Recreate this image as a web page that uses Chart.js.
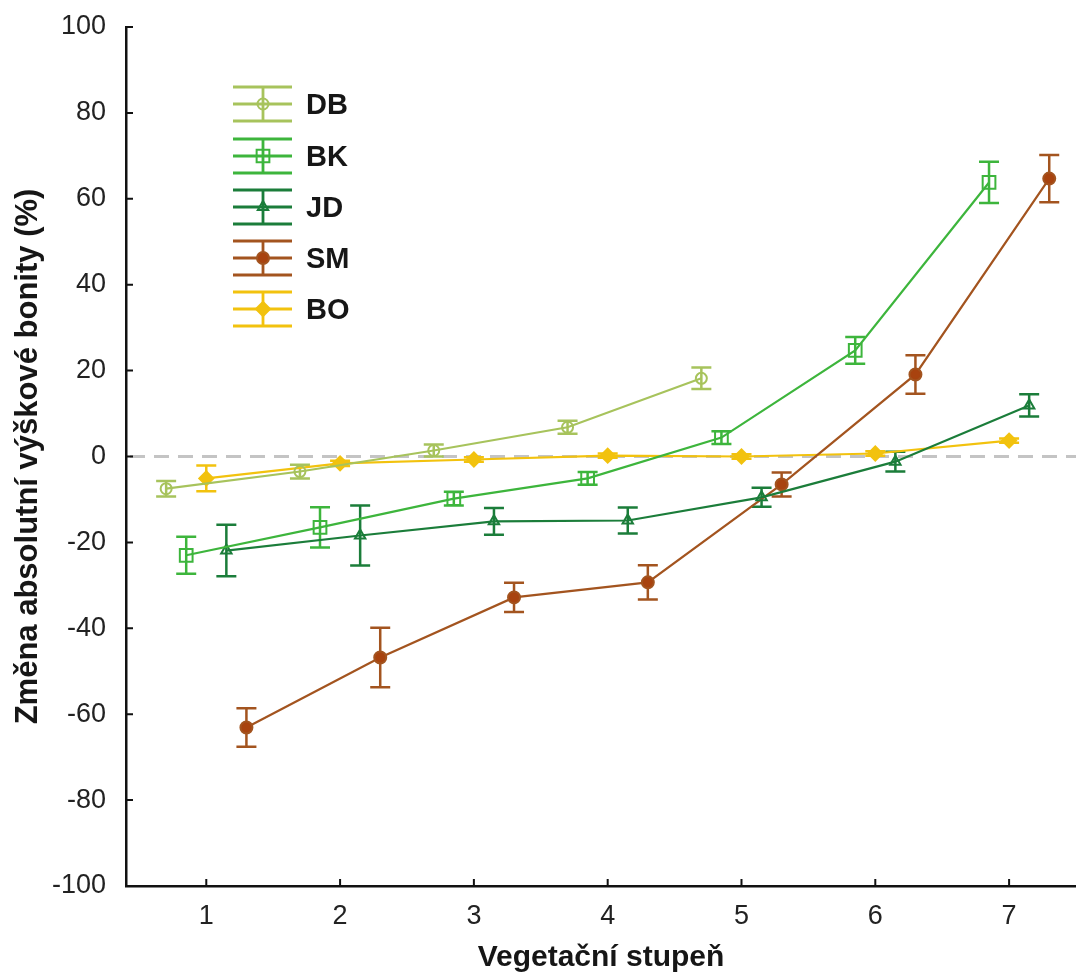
<!DOCTYPE html>
<html>
<head>
<meta charset="utf-8">
<script src="https://cdn.jsdelivr.net/npm/chart.js@4.4.1/dist/chart.umd.min.js"></script>
<style>
  html, body { margin: 0; padding: 0; background: #fff; }
  #wrap { width: 1076px; height: 980px; }
</style>
</head>
<body>
<div id="wrap"><canvas id="chart" width="1076" height="980"></canvas></div>
<script>
// hodnoty
const xTicks = [1, 2, 3, 4, 5, 6, 7];
const seriesNames = ['DB', 'BK', 'JD', 'SM', 'BO'];

const dbX = [0.7, 1.7, 2.7, 3.7, 4.7];
const dbY = [-7.5, -3.5, 1.4, 6.8, 18.2];
const dbErr = [1.8, 1.6, 1.4, 1.5, 2.5];

const bkX = [0.85, 1.85, 2.85, 3.85, 4.85, 5.85, 6.85];
const bkY = [-23, -16.5, -9.8, -5.1, 4.4, 24.7, 63.8];
const bkErr = [4.3, 4.7, 1.6, 1.5, 1.5, 3.1, 4.8];

const jdX = [1.15, 2.15, 3.15, 4.15, 5.15, 6.15, 7.15];
const jdY = [-21.9, -18.4, -15.1, -14.9, -9.5, -1.2, 11.9];
const jdErr = [6, 7, 3.1, 3, 2.2, 2.3, 2.6];

const smX = [1.3, 2.3, 3.3, 4.3, 5.3, 6.3, 7.3];
const smY = [-63.1, -46.8, -32.8, -29.3, -6.5, 19.1, 64.7];
const smErr = [4.5, 6.9, 3.4, 4, 2.8, 4.5, 5.5];

const boX = [1, 2, 3, 4, 5, 6, 7];
const boY = [-5.1, -1.6, -0.7, 0.2, 0, 0.7, 3.7];
const boErr = [3, 0.6, 0.5, 0.5, 0.5, 0.5, 0.5];

Chart.defaults.font.family = "'Liberation Sans', Arial, sans-serif";
Chart.defaults.color = '#222';

function pts(xs, ys) {
    return xs.map((x, i) => ({ x: x, y: ys[i] }));
}

function makeSet(label, xs, ys, err, color, style, radius, fill) {
    return {
        label: label,
        data: pts(xs, ys),
        errors: err,
        borderColor: color,
        borderWidth: 2.2,
        pointStyle: style,
        pointRadius: radius,
        pointHoverRadius: radius,
        pointBorderColor: color,
        pointBackgroundColor: fill,
        pointBorderWidth: 2,
        tension: 0
    };
}

const datasets = [
    makeSet(seriesNames[0], dbX, dbY, dbErr, '#a7c35c', 'circle', 5.5, 'rgba(255,255,255,0)'),
    makeSet(seriesNames[1], bkX, bkY, bkErr, '#3db53c', 'rect', 9, 'rgba(255,255,255,0)'),
    makeSet(seriesNames[2], jdX, jdY, jdErr, '#1b7d3a', 'triangle', 6, 'rgba(255,255,255,0)'),
    makeSet(seriesNames[3], smX, smY, smErr, '#a3541f', 'circle', 6, '#a8430f'),
    makeSet(seriesNames[4], boX, boY, boErr, '#f2c20e', 'rectRot', 7, '#f2c20e')
];

// šedá přerušovaná čára v nule
const zeroLine = {
    id: 'zeroLine',
    beforeDatasetsDraw(chart) {
        const { ctx, chartArea, scales } = chart;
        const y = scales.y.getPixelForValue(0);
        ctx.save();
        ctx.strokeStyle = '#c4c4c4';
        ctx.lineWidth = 3;
        ctx.setLineDash([15, 9]);
        ctx.beginPath();
        ctx.moveTo(chartArea.left + 4, y);
        ctx.lineTo(chartArea.right, y);
        ctx.stroke();
        ctx.restore();
    }
};

// chybové úsečky
const errorBars = {
    id: 'errorBars',
    beforeDatasetsDraw(chart) {
        const { ctx, scales } = chart;
        ctx.save();
        ctx.lineWidth = 2.5;
        chart.data.datasets.forEach(ds => {
            ctx.strokeStyle = ds.borderColor;
            ds.data.forEach((p, i) => {
                const e = ds.errors[i];
                const x = scales.x.getPixelForValue(p.x);
                const y1 = scales.y.getPixelForValue(p.y + e);
                const y2 = scales.y.getPixelForValue(p.y - e);
                ctx.beginPath();
                ctx.moveTo(x, y1); ctx.lineTo(x, y2);
                ctx.moveTo(x - 10, y1); ctx.lineTo(x + 10, y1);
                ctx.moveTo(x - 10, y2); ctx.lineTo(x + 10, y2);
                ctx.stroke();
            });
        });
        ctx.restore();
    }
};

// značky os směrem dovnitř
const insideTicks = {
    id: 'insideTicks',
    afterDraw(chart) {
        const { ctx, chartArea, scales } = chart;
        ctx.save();
        ctx.strokeStyle = '#111';
        ctx.lineWidth = 2;
        ctx.beginPath();
        scales.y.ticks.forEach(t => {
            const y = scales.y.getPixelForValue(t.value);
            ctx.moveTo(chartArea.left, y);
            ctx.lineTo(chartArea.left + 7, y);
        });
        scales.x.ticks.forEach(t => {
            const x = scales.x.getPixelForValue(t.value);
            ctx.moveTo(x, chartArea.bottom);
            ctx.lineTo(x, chartArea.bottom - 7);
        });
        ctx.stroke();
        ctx.restore();
    }
};

// legenda uvnitř grafu
const innerLegend = {
    id: 'innerLegend',
    afterDraw(chart) {
        const ctx = chart.ctx;
        const x0 = 233, x1 = 292, xm = 263;
        const rows = [104, 156, 207, 258, 309];
        ctx.save();
        chart.data.datasets.forEach((ds, i) => {
            const cy = rows[i];
            ctx.strokeStyle = ds.borderColor;
            ctx.lineWidth = 2.8;
            ctx.beginPath();
            [-17, 0, 17].forEach(d => {
                ctx.moveTo(x0, cy + d);
                ctx.lineTo(x1, cy + d);
            });
            ctx.moveTo(xm, cy - 17);
            ctx.lineTo(xm, cy + 17);
            ctx.stroke();
            ctx.fillStyle = ds.pointBackgroundColor;
            ctx.lineWidth = 2;
            Chart.helpers.drawPoint(ctx, {
                pointStyle: ds.pointStyle,
                radius: ds.pointRadius,
                borderWidth: 2,
                rotation: 0
            }, xm, cy);
            ctx.fillStyle = '#161616';
            ctx.font = "bold 29px 'Liberation Sans', Arial, sans-serif";
            ctx.textBaseline = 'middle';
            ctx.textAlign = 'left';
            ctx.fillText(ds.label, 306, cy + 2);
        });
        ctx.restore();
    }
};

new Chart(document.getElementById('chart'), {
    type: 'line',
    data: { datasets: datasets },
    options: {
        responsive: false,
        animation: false,
        layout: { autoPadding: false, padding: { top: 27, right: 0, left: 0, bottom: 0 } },
        plugins: {
            legend: { display: false },
            tooltip: { enabled: false }
        },
        scales: {
            x: {
                type: 'linear',
                min: 0.4,
                max: 7.5,
                afterBuildTicks: scale => { scale.ticks = xTicks.map(v => ({ value: v })); },
                afterFit: scale => {
                    scale.height = 94;
                    scale.paddingLeft = 0;
                    scale.paddingRight = 0;
                },
                grid: { display: false, drawTicks: false },
                border: { color: '#111', width: 2.5 },
                ticks: { font: { size: 27 }, color: '#222', padding: 14 },
                title: {
                    display: true,
                    text: 'Vegetační stupeň',
                    font: { family: "'Liberation Sans Narrow', 'Liberation Sans', sans-serif", size: 30, weight: 'bold' },
                    color: '#161616',
                    padding: { top: 0, bottom: 4 }
                }
            },
            y: {
                min: -100,
                max: 100,
                afterFit: scale => {
                    scale.width = 126;
                    scale.paddingTop = 0;
                    scale.paddingBottom = 0;
                },
                grid: { display: false, drawTicks: false },
                border: { color: '#111', width: 2.5 },
                ticks: { stepSize: 20, font: { size: 27 }, color: '#222', padding: 20 },
                title: {
                    display: true,
                    text: 'Změna absolutní výškové bonity (%)',
                    font: { family: "'Liberation Sans Narrow', 'Liberation Sans', sans-serif", size: 31, weight: 'bold' },
                    color: '#161616',
                    padding: { top: 10, bottom: 0 }
                }
            }
        }
    },
    plugins: [zeroLine, errorBars, insideTicks, innerLegend]
});
</script>
</body>
</html>
